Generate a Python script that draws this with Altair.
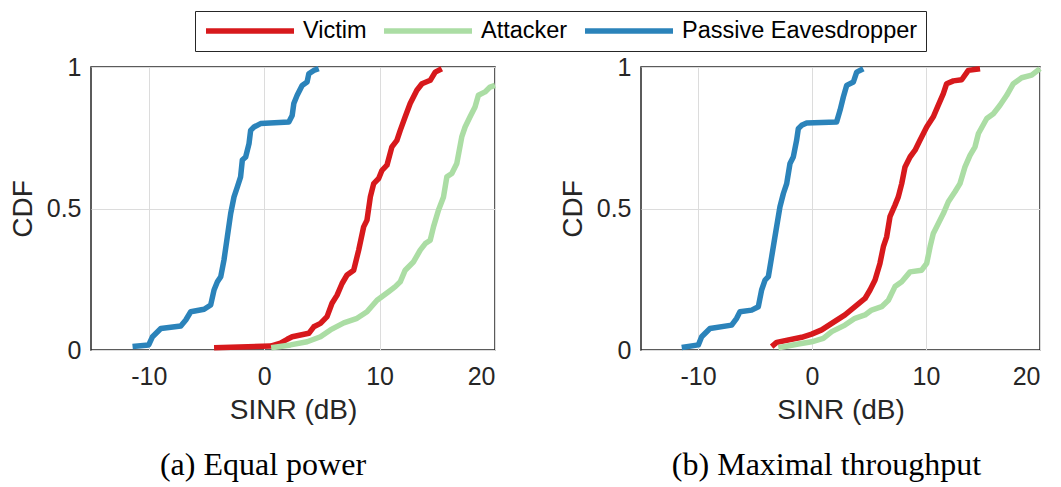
import altair as alt
import pandas as pd

SERIES = ["Victim", "Attacker", "Passive Eavesdropper"]
COLORS = ["#d7191c", "#abdda4", "#2b83ba"]

# Panel (a) Equal power
a_victim_x = [-4.34, 0.56, 1.42, 2.0, 2.43, 3.87, 4.3, 4.88, 5.45, 5.88, 6.32, 6.75, 7.18, 7.76, 8.19, 8.62, 8.91, 9.2, 9.49, 9.92, 10.21, 10.64, 11.07, 11.5, 11.79, 12.22, 12.65, 13.23, 13.67, 14.39, 14.82, 15.39]
a_victim_y = [0.008, 0.014, 0.024, 0.038, 0.047, 0.059, 0.082, 0.094, 0.118, 0.165, 0.194, 0.235, 0.265, 0.282, 0.353, 0.435, 0.459, 0.541, 0.588, 0.606, 0.635, 0.653, 0.718, 0.741, 0.776, 0.824, 0.871, 0.918, 0.941, 0.953, 0.982, 0.994]
a_attacker_x = [0.61, 2.29, 3.73, 4.88, 5.74, 6.9, 8.05, 8.91, 9.78, 10.78, 11.36, 11.79, 12.22, 12.95, 13.52, 13.96, 14.39, 14.67, 15.1, 15.54, 15.83, 16.26, 16.69, 17.12, 17.41, 17.84, 18.27, 18.56, 19.14, 19.57, 20.0]
a_attacker_y = [0.008, 0.018, 0.029, 0.047, 0.071, 0.096, 0.112, 0.135, 0.176, 0.206, 0.224, 0.241, 0.282, 0.312, 0.353, 0.376, 0.388, 0.435, 0.494, 0.541, 0.612, 0.624, 0.659, 0.753, 0.788, 0.824, 0.859, 0.9, 0.912, 0.929, 0.935]
a_passive_x = [-11.4, -10.0, -9.67, -8.95, -7.22, -6.79, -6.36, -5.2, -4.63, -4.34, -4.05, -3.76, -3.48, -3.19, -2.9, -2.61, -2.32, -2.04, -1.89, -1.6, -1.31, -1.17, -0.88, -0.31, 2.14, 2.43, 2.57, 2.86, 3.29, 3.72, 3.87, 4.3, 4.73]
a_passive_y = [0.012, 0.018, 0.047, 0.076, 0.085, 0.106, 0.135, 0.144, 0.159, 0.212, 0.241, 0.259, 0.318, 0.4, 0.482, 0.541, 0.576, 0.612, 0.671, 0.682, 0.729, 0.776, 0.788, 0.8, 0.806, 0.829, 0.871, 0.9, 0.935, 0.947, 0.976, 0.988, 0.994]

# Panel (b) Maximal throughput
b_victim_x = [-3.54, -3.1, -0.91, -0.03, 0.85, 1.73, 2.89, 3.77, 4.65, 5.09, 5.53, 5.96, 6.26, 6.55, 6.84, 7.28, 7.57, 7.87, 8.16, 8.6, 9.04, 9.47, 10.06, 10.64, 11.08, 11.52, 11.81, 12.4, 13.13, 13.71, 14.74]
b_victim_y = [0.012, 0.027, 0.045, 0.056, 0.071, 0.094, 0.124, 0.153, 0.182, 0.212, 0.247, 0.306, 0.365, 0.4, 0.471, 0.512, 0.541, 0.588, 0.647, 0.682, 0.706, 0.741, 0.788, 0.824, 0.865, 0.906, 0.941, 0.951, 0.955, 0.988, 0.994]
b_attacker_x = [-2.95, -1.2, -0.03, 0.99, 1.73, 2.89, 3.77, 4.65, 5.23, 6.11, 6.7, 7.28, 7.87, 8.6, 9.62, 10.06, 10.36, 10.64, 11.08, 11.52, 11.96, 12.54, 12.98, 13.42, 13.86, 14.3, 14.6, 15.33, 15.91, 16.49, 17.08, 17.66, 18.39, 19.27, 20.0]
b_attacker_y = [0.008, 0.021, 0.029, 0.041, 0.065, 0.088, 0.112, 0.124, 0.141, 0.153, 0.176, 0.224, 0.241, 0.276, 0.282, 0.306, 0.365, 0.412, 0.447, 0.482, 0.524, 0.559, 0.588, 0.647, 0.688, 0.718, 0.765, 0.818, 0.835, 0.865, 0.9, 0.941, 0.962, 0.971, 0.994]
b_passive_x = [-11.43, -9.97, -9.68, -8.95, -7.05, -6.61, -6.32, -5.29, -4.71, -4.42, -4.12, -3.83, -3.54, -3.25, -2.81, -2.51, -2.22, -1.93, -1.64, -1.35, -1.2, -0.91, -0.47, 2.16, 2.46, 2.75, 3.04, 3.63, 3.92, 4.5]
b_passive_y = [0.009, 0.018, 0.047, 0.076, 0.088, 0.112, 0.135, 0.141, 0.153, 0.212, 0.247, 0.259, 0.329, 0.4, 0.506, 0.553, 0.588, 0.659, 0.682, 0.741, 0.782, 0.794, 0.802, 0.806, 0.847, 0.894, 0.935, 0.947, 0.982, 0.994]

X_TICKS = [-10, 0, 10, 20]
Y_TICKS = [0, 0.5, 1]
CAPTIONS = ["(a) Equal power", "(b) Maximal throughput"]


def frame(xs_list, ys_list):
    rows = []
    for name, xs, ys in zip(SERIES, xs_list, ys_list):
        for i, (x, y) in enumerate(zip(xs, ys)):
            rows.append({"series": name, "sinr": x, "cdf": y, "idx": i})
    return pd.DataFrame(rows)


df_a = frame([a_victim_x, a_attacker_x, a_passive_x], [a_victim_y, a_attacker_y, a_passive_y])
df_b = frame([b_victim_x, b_attacker_x, b_passive_x], [b_victim_y, b_attacker_y, b_passive_y])

color = alt.Color(
    "series:N",
    scale=alt.Scale(domain=SERIES, range=COLORS),
    legend=alt.Legend(
        title=None,
        orient="none",
        direction="horizontal",
        legendX=104,
        legendY=-56,
        symbolType="stroke",
        symbolSize=7744,
        symbolStrokeWidth=5.5,
        clipHeight=24,
        labelFontSize=23.5,
        labelFont="Liberation Sans",
        labelColor="#000000",
        labelOffset=6,
        columnPadding=14,
        padding=8,
        strokeColor="#262626",
        fillColor="#ffffff",
        cornerRadius=0,
        labelLimit=400,
    ),
)


def panel(df, caption, w, dx):
    return (
        alt.Chart(df)
        .mark_line(strokeWidth=5.5, strokeJoin="round", strokeCap="butt")
        .encode(
            x=alt.X(
                "sinr:Q",
                scale=alt.Scale(domain=[-15, 20], nice=False),
                axis=alt.Axis(
                    title="SINR (dB)",
                    values=X_TICKS,
                    labelExpr="datum.value + ''",
                    labelPadding=14,
                    titlePadding=7,
                ),
            ),
            y=alt.Y(
                "cdf:Q",
                scale=alt.Scale(domain=[0, 1], nice=False),
                axis=alt.Axis(
                    title="CDF",
                    values=Y_TICKS,
                    labelExpr="datum.value + ''",
                    labelPadding=10,
                    titlePadding=9,
                ),
            ),
            color=color,
            order="idx:Q",
        )
        .properties(
            width=w,
            height=283,
            title=alt.TitleParams(
                text=caption,
                orient="bottom",
                font="Liberation Serif",
                fontSize=32,
                fontWeight="normal",
                color="#000000",
                offset=26,
                dx=dx,
            ),
        )
    )


chart = (
    alt.hconcat(
        panel(df_a, CAPTIONS[0], 404, -30),
        panel(df_b, CAPTIONS[1], 399, -14),
        spacing=59,
    )
    .configure_axis(
        labelFont="Liberation Sans",
        titleFont="Liberation Sans",
        labelFontSize=25,
        titleFontSize=28,
        titleFontWeight="normal",
        labelColor="#262626",
        titleColor="#262626",
        ticks=False,
        domain=False,
        grid=True,
        gridColor="#dcdcdc",
        gridWidth=1,
    )
    .configure_view(stroke="#262626", strokeWidth=1.5)
    .properties(padding={"left": 0, "top": 2, "right": 5, "bottom": 5})
)

chart.save("out.html", embed_options={"renderer": "svg", "actions": False})
